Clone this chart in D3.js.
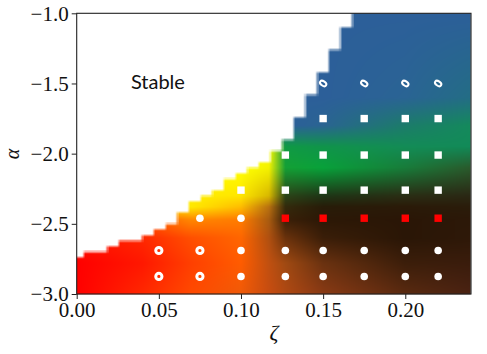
<!DOCTYPE html>
<html>
<head>
<meta charset="utf-8">
<script src="https://cdn.jsdelivr.net/npm/d3@7"></script>
<style>
body {margin: 0; background: #fff;}
svg text {font-family: "Liberation Serif", "Times New Roman", serif; fill: #111;}
</style>
</head>
<body>
<svg id="chart" width="487" height="354"></svg>
<script>
// colour field anchors (columns = zeta, rows = alpha, top to bottom)
var fieldZeta  = [0, 0.04, 0.07, 0.10, 0.117, 0.127, 0.15, 0.20, 0.24];
var fieldAlpha = [-1.0, -1.6, -1.8, -1.95, -2.1, -2.3, -2.38, -2.47, -2.6, -2.78, -3.0];
var fieldColors = [
    ["#2c5f99","#2c5f99","#2c5f99","#2c5f99","#2c5f99","#2c5f99","#2c5f99","#2c5f99","#2c5f99"],
    ["#2c5f99","#2c5f99","#2c5f99","#2c5f99","#2c5f99","#2c5f99","#2c5f99","#2a6494","#236d85"],
    ["#2c5f99","#2c5f99","#2c5f99","#2c5f99","#2c5f99","#2c5f99","#2a6492","#1c7c6a","#148a5c"],
    ["#ffff00","#ffff00","#ffff00","#ffff00","#ffff00","#0f9a45","#10944a","#138c56","#128a58"],
    ["#ffff00","#ffff00","#ffff00","#ffff00","#f4f200","#14a035","#08a23a","#187c3a","#2a5a2c"],
    ["#ffee00","#ffee00","#ffee00","#ffe600","#d8b800","#2c4418","#1e3616","#2a2e14","#2a2814"],
    ["#ffb000","#ffe000","#ffe800","#ffbc00","#b87010","#342a0c","#281c08","#2a1a08","#2a1c0a"],
    ["#ff3000","#ff5400","#ff8800","#ff7c00","#a85c10","#3a2008","#2c1806","#2a1606","#2c1808"],
    ["#ff1000","#ff2800","#ff5000","#ff6600","#b05010","#6a320c","#3a1e08","#2a1606","#2e1808"],
    ["#ff0000","#ff1800","#ff4000","#ff5c00","#c05010","#a04a12","#6a3210","#3c1e0a","#3a1c0c"],
    ["#ff0000","#ff2800","#ff4a00","#f05a08","#c84c10","#b04812","#8a3a14","#5a2a10","#4a2212"]
];

// stability boundary: top of the coloured region, per column centre
var boundaryZeta  = [0.0007, 0.0504, 0.0646, 0.0717, 0.093, 0.1214, 0.1285, 0.1356, 0.164, 0.1711];
var boundaryAlpha = [-2.735, -2.55, -2.42, -2.36, -2.19, -2.0, -1.89, -1.74, -1.10, -0.95];

// simulation grid
var gridZeta0 = -0.0028, gridDZeta = 0.0071;
var gridAlpha0 = -3.02, gridDAlpha = 0.04;

// markers
var markerZeta = [], markerAlpha = [], markerType = [];
function addRow(alpha, zetas, type) {
    zetas.forEach(function(z) {
        markerZeta.push(z);
        markerAlpha.push(alpha);
        markerType.push(type);
    });
}
addRow(-1.5,   [0.15, 0.175, 0.2, 0.22], "ellipse");
addRow(-1.75,  [0.15, 0.175, 0.2, 0.22], "square");
addRow(-2.01,  [0.127, 0.15, 0.175, 0.2, 0.22], "square");
addRow(-2.26,  [0.1, 0.127, 0.15, 0.175, 0.2, 0.22], "square");
addRow(-2.46,  [0.075, 0.1], "circle");
addRow(-2.46,  [0.127, 0.15, 0.175, 0.2, 0.22], "redsquare");
addRow(-2.69,  [0.05, 0.075], "ring");
addRow(-2.69,  [0.1, 0.127, 0.15, 0.175, 0.2, 0.22], "circle");
addRow(-2.875, [0.05, 0.075], "ring");
addRow(-2.875, [0.1, 0.127, 0.15, 0.175, 0.2, 0.22], "circle");

var xTicks = [0, 0.05, 0.10, 0.15, 0.20];
var yTicks = [-3.0, -2.5, -2.0, -1.5, -1.0];


var svg = d3.select("#chart");
var padding = {t: 13.3, r: 16, b: 60, l: 76.7};
var plotW = 471 - padding.l;
var plotH = 294 - padding.t;

var xScale = d3.scaleLinear().domain([0, 0.24]).range([padding.l, padding.l + plotW]);
var yScale = d3.scaleLinear().domain([-3, -1]).range([padding.t + plotH, padding.t]);
var boundary = d3.scaleLinear().domain(boundaryZeta).range(boundaryAlpha);

var rgbRows = fieldColors.map(function(row) {
    return row.map(function(c) { return d3.rgb(c); });
});

function isUnstable(z, a) {
    var col = Math.floor((z - gridZeta0) / gridDZeta);
    var row = Math.floor((a - gridAlpha0) / gridDAlpha);
    var zc = gridZeta0 + (col + 0.5) * gridDZeta;
    var ac = gridAlpha0 + (row + 0.5) * gridDAlpha;
    return ac < boundary(zc);
}

function fieldColor(z, a) {
    var i = Math.max(0, Math.min(fieldZeta.length - 2, d3.bisectRight(fieldZeta, z) - 1));
    var tz = Math.max(0, Math.min(1, (z - fieldZeta[i]) / (fieldZeta[i+1] - fieldZeta[i])));
    var j = 0;
    while (j < fieldAlpha.length - 2 && a < fieldAlpha[j+1]) j++;
    var ta = Math.max(0, Math.min(1, (fieldAlpha[j] - a) / (fieldAlpha[j] - fieldAlpha[j+1])));
    var c00 = rgbRows[j][i], c01 = rgbRows[j][i+1], c10 = rgbRows[j+1][i], c11 = rgbRows[j+1][i+1];
    function mix(k) {
        var top = c00[k] * (1 - tz) + c01[k] * tz;
        var bot = c10[k] * (1 - tz) + c11[k] * tz;
        return top * (1 - ta) + bot * ta;
    }
    return [mix("r"), mix("g"), mix("b")];
}

// paint the field into a canvas, pixel by pixel through the scales
var W = Math.round(plotW), H = Math.round(plotH);
var canvas = document.createElement("canvas");
canvas.width = W; canvas.height = H;
var ctx = canvas.getContext("2d");
var img = ctx.createImageData(W, H);
var offs = [-1.2, 0, 1.2];
for (var py = 0; py < H; py++) {
    for (var px = 0; px < W; px++) {
        var sx = padding.l + px + 0.5, sy = padding.t + py + 0.5;
        var m = 0;
        for (var a1 = 0; a1 < 3; a1++) {
            for (var b1 = 0; b1 < 3; b1++) {
                if (isUnstable(xScale.invert(sx + offs[a1]), yScale.invert(sy + offs[b1]))) m++;
            }
        }
        m /= 9;
        var col = fieldColor(xScale.invert(sx), yScale.invert(sy));
        var k = (py * W + px) * 4;
        img.data[k]   = 255 * (1 - m) + col[0] * m;
        img.data[k+1] = 255 * (1 - m) + col[1] * m;
        img.data[k+2] = 255 * (1 - m) + col[2] * m;
        img.data[k+3] = 255;
    }
}
ctx.putImageData(img, 0, 0);

svg.append("image")
    .attr("x", padding.l)
    .attr("y", padding.t)
    .attr("width", W)
    .attr("height", H)
    .attr("href", canvas.toDataURL());

// markers
var markers = svg.append("g");
markerZeta.forEach(function(z, i) {
    var cx = xScale(z), cy = yScale(markerAlpha[i]), t = markerType[i];
    if (t == "square" || t == "redsquare") {
        markers.append("rect")
            .attr("x", cx - 3.7).attr("y", cy - 3.7)
            .attr("width", 7.4).attr("height", 7.4)
            .attr("fill", t == "square" ? "#ffffff" : "#ff0000");
    } else if (t == "circle") {
        markers.append("circle")
            .attr("cx", cx).attr("cy", cy).attr("r", 3.8)
            .attr("fill", "#ffffff");
    } else if (t == "ring") {
        markers.append("circle")
            .attr("cx", cx).attr("cy", cy).attr("r", 3.1)
            .attr("fill", "none").attr("stroke", "#ffffff").attr("stroke-width", 3);
    } else {
        markers.append("ellipse")
            .attr("transform", "translate(" + cx + "," + cy + ") rotate(35)")
            .attr("rx", 3.5).attr("ry", 2.2)
            .attr("fill", "none").attr("stroke", "#ffffff").attr("stroke-width", 2);
    }
});

// frame
svg.append("rect")
    .attr("x", padding.l).attr("y", padding.t)
    .attr("width", plotW).attr("height", plotH)
    .attr("fill", "none").attr("stroke", "#222").attr("stroke-width", 1.1);

var xAxis = d3.axisBottom(xScale).tickValues(xTicks).tickFormat(d3.format(".2f")).tickSize(5).tickPadding(3);
var yAxis = d3.axisLeft(yScale).tickValues(yTicks).tickFormat(d3.format(".1f")).tickSize(5).tickPadding(3);

var gx = svg.append("g").attr("transform", "translate(0," + (padding.t + plotH) + ")").call(xAxis);
var gy = svg.append("g").attr("transform", "translate(" + padding.l + ",0)").call(yAxis);
[gx, gy].forEach(function(g) {
    g.select(".domain").remove();
    g.selectAll(".tick line").attr("stroke", "#222");
    g.selectAll(".tick text").style("font-size", "21px").attr("fill", "#111");
});

svg.append("text")
    .attr("transform", "translate(19,154) rotate(-90)")
    .attr("text-anchor", "middle")
    .style("font-size", "20px").style("font-style", "italic")
    .text("α");

svg.append("text")
    .attr("x", xScale(0.12)).attr("y", 340)
    .attr("text-anchor", "middle")
    .style("font-size", "22px").style("font-style", "italic")
    .text("ζ");

svg.append("text")
    .attr("x", xScale(0.033)).attr("y", 89)
    .style("font-family", "Lato, 'Noto Sans', sans-serif")
    .style("font-size", "20px")
    .text("Stable");
</script>
</body>
</html>
